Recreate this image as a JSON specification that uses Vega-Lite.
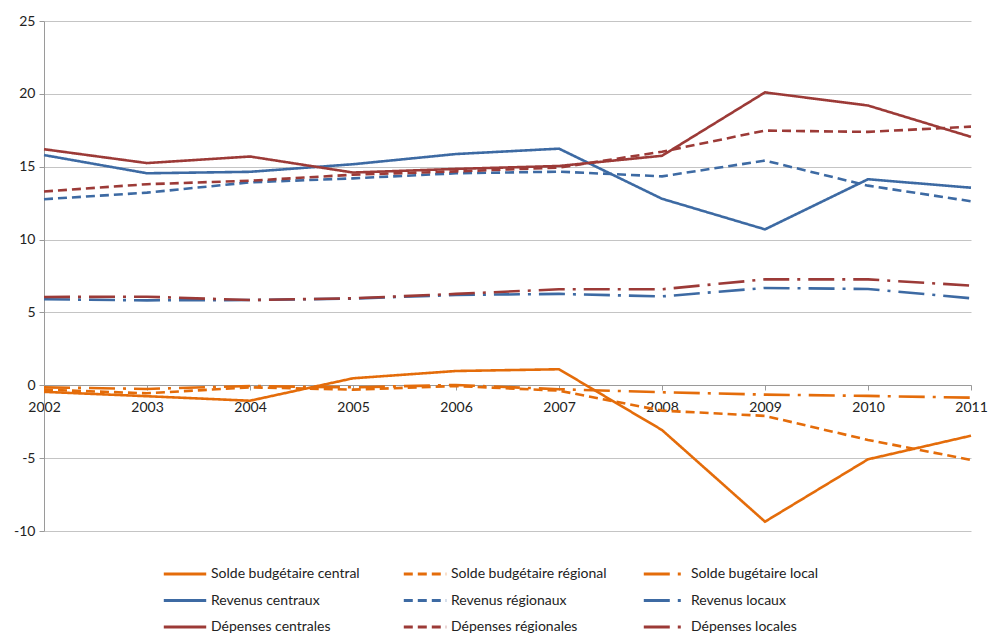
{
  "$schema": "https://vega.github.io/schema/vega-lite/v6.json",
  "width": 927,
  "height": 510,
  "autosize": {"type": "none"},
  "padding": {"left": 44, "top": 21, "right": 17, "bottom": 104},
  "background": "white",
  "config": {
    "font": "Lato",
    "view": {"stroke": null},
    "axis": {"labelFont": "Lato", "labelFontSize": 14, "labelColor": "#222222", "domainColor": "#9a9a9a", "tickColor": "#9a9a9a", "gridColor": "#c4c4c4"}
  },
  "data": {"values": [
    {"year":2002,"series":"Solde budgétaire central","value":-0.45},
    {"year":2003,"series":"Solde budgétaire central","value":-0.75},
    {"year":2004,"series":"Solde budgétaire central","value":-1.06},
    {"year":2005,"series":"Solde budgétaire central","value":0.48},
    {"year":2006,"series":"Solde budgétaire central","value":0.98},
    {"year":2007,"series":"Solde budgétaire central","value":1.1},
    {"year":2008,"series":"Solde budgétaire central","value":-3.07},
    {"year":2009,"series":"Solde budgétaire central","value":-9.36},
    {"year":2010,"series":"Solde budgétaire central","value":-5.08},
    {"year":2011,"series":"Solde budgétaire central","value":-3.46},
    {"year":2002,"series":"Solde budgétaire régional","value":-0.3},
    {"year":2003,"series":"Solde budgétaire régional","value":-0.55},
    {"year":2004,"series":"Solde budgétaire régional","value":-0.14},
    {"year":2005,"series":"Solde budgétaire régional","value":-0.3},
    {"year":2006,"series":"Solde budgétaire régional","value":-0.05},
    {"year":2007,"series":"Solde budgétaire régional","value":-0.37},
    {"year":2008,"series":"Solde budgétaire régional","value":-1.74},
    {"year":2009,"series":"Solde budgétaire régional","value":-2.1},
    {"year":2010,"series":"Solde budgétaire régional","value":-3.75},
    {"year":2011,"series":"Solde budgétaire régional","value":-5.12},
    {"year":2002,"series":"Solde bugétaire local","value":-0.14},
    {"year":2003,"series":"Solde bugétaire local","value":-0.25},
    {"year":2004,"series":"Solde bugétaire local","value":-0.05},
    {"year":2005,"series":"Solde bugétaire local","value":-0.14},
    {"year":2006,"series":"Solde bugétaire local","value":0.02},
    {"year":2007,"series":"Solde bugétaire local","value":-0.27},
    {"year":2008,"series":"Solde bugétaire local","value":-0.48},
    {"year":2009,"series":"Solde bugétaire local","value":-0.64},
    {"year":2010,"series":"Solde bugétaire local","value":-0.73},
    {"year":2011,"series":"Solde bugétaire local","value":-0.85},
    {"year":2002,"series":"Revenus centraux","value":15.8},
    {"year":2003,"series":"Revenus centraux","value":14.55},
    {"year":2004,"series":"Revenus centraux","value":14.65},
    {"year":2005,"series":"Revenus centraux","value":15.17},
    {"year":2006,"series":"Revenus centraux","value":15.87},
    {"year":2007,"series":"Revenus centraux","value":16.24},
    {"year":2008,"series":"Revenus centraux","value":12.8},
    {"year":2009,"series":"Revenus centraux","value":10.7},
    {"year":2010,"series":"Revenus centraux","value":14.14},
    {"year":2011,"series":"Revenus centraux","value":13.56},
    {"year":2002,"series":"Revenus régionaux","value":12.77},
    {"year":2003,"series":"Revenus régionaux","value":13.22},
    {"year":2004,"series":"Revenus régionaux","value":13.93},
    {"year":2005,"series":"Revenus régionaux","value":14.2},
    {"year":2006,"series":"Revenus régionaux","value":14.55},
    {"year":2007,"series":"Revenus régionaux","value":14.66},
    {"year":2008,"series":"Revenus régionaux","value":14.34},
    {"year":2009,"series":"Revenus régionaux","value":15.42},
    {"year":2010,"series":"Revenus régionaux","value":13.7},
    {"year":2011,"series":"Revenus régionaux","value":12.63},
    {"year":2002,"series":"Revenus locaux","value":5.9},
    {"year":2003,"series":"Revenus locaux","value":5.83},
    {"year":2004,"series":"Revenus locaux","value":5.85},
    {"year":2005,"series":"Revenus locaux","value":5.95},
    {"year":2006,"series":"Revenus locaux","value":6.2},
    {"year":2007,"series":"Revenus locaux","value":6.27},
    {"year":2008,"series":"Revenus locaux","value":6.1},
    {"year":2009,"series":"Revenus locaux","value":6.68},
    {"year":2010,"series":"Revenus locaux","value":6.61},
    {"year":2011,"series":"Revenus locaux","value":5.97},
    {"year":2002,"series":"Dépenses centrales","value":16.2},
    {"year":2003,"series":"Dépenses centrales","value":15.25},
    {"year":2004,"series":"Dépenses centrales","value":15.7},
    {"year":2005,"series":"Dépenses centrales","value":14.6},
    {"year":2006,"series":"Dépenses centrales","value":14.85},
    {"year":2007,"series":"Dépenses centrales","value":15.05},
    {"year":2008,"series":"Dépenses centrales","value":15.75},
    {"year":2009,"series":"Dépenses centrales","value":20.1},
    {"year":2010,"series":"Dépenses centrales","value":19.2},
    {"year":2011,"series":"Dépenses centrales","value":17.05},
    {"year":2002,"series":"Dépenses régionales","value":13.3},
    {"year":2003,"series":"Dépenses régionales","value":13.8},
    {"year":2004,"series":"Dépenses régionales","value":14.04},
    {"year":2005,"series":"Dépenses régionales","value":14.45},
    {"year":2006,"series":"Dépenses régionales","value":14.68},
    {"year":2007,"series":"Dépenses régionales","value":14.94},
    {"year":2008,"series":"Dépenses régionales","value":16.03},
    {"year":2009,"series":"Dépenses régionales","value":17.48},
    {"year":2010,"series":"Dépenses régionales","value":17.39},
    {"year":2011,"series":"Dépenses régionales","value":17.75},
    {"year":2002,"series":"Dépenses locales","value":6.06},
    {"year":2003,"series":"Dépenses locales","value":6.08},
    {"year":2004,"series":"Dépenses locales","value":5.85},
    {"year":2005,"series":"Dépenses locales","value":5.97},
    {"year":2006,"series":"Dépenses locales","value":6.27},
    {"year":2007,"series":"Dépenses locales","value":6.59},
    {"year":2008,"series":"Dépenses locales","value":6.59},
    {"year":2009,"series":"Dépenses locales","value":7.27},
    {"year":2010,"series":"Dépenses locales","value":7.27},
    {"year":2011,"series":"Dépenses locales","value":6.84}
  ]},
  "mark": {"type": "line", "strokeWidth": 2.6, "clip": false},
  "encoding": {
    "x": {
      "field": "year", "type": "quantitative",
      "scale": {"domain": [2002, 2011], "nice": false, "zero": false},
      "axis": {"title": null, "format": "d", "values": [2002,2003,2004,2005,2006,2007,2008,2009,2010,2011], "grid": false, "offset": -146, "tickSize": 5, "labelPadding": 10, "labelFlush": false}
    },
    "y": {
      "field": "value", "type": "quantitative",
      "scale": {"domain": [-10, 25], "nice": false},
      "axis": {"title": null, "values": [-10,-5,0,5,10,15,20,25], "labelExpr": "'' + datum.value", "tickSize": 5, "labelPadding": 4, "grid": true}
    },
    "color": {
      "field": "series", "type": "nominal",
      "sort": ["Solde budgétaire central","Solde budgétaire régional","Solde bugétaire local","Revenus centraux","Revenus régionaux","Revenus locaux","Dépenses centrales","Dépenses régionales","Dépenses locales"],
      "scale": {
        "domain": ["Solde budgétaire central","Solde budgétaire régional","Solde bugétaire local","Revenus centraux","Revenus régionaux","Revenus locaux","Dépenses centrales","Dépenses régionales","Dépenses locales"],
        "range": ["#E46C0A","#E46C0A","#E46C0A","#3D6AA3","#3D6AA3","#3D6AA3","#9C3A37","#9C3A37","#9C3A37"]
      },
      "legend": {
        "title": null, "orient": "none", "legendX": 132, "legendY": 544, "direction": "horizontal", "columns": 3,
        "symbolType": "M-3,0L3,0", "symbolSize": 200, "symbolStrokeWidth": 3, "symbolFillColor": "transparent", "labelFontSize": 14, "labelFont": "Lato", "labelColor": "#222222", "labelOffset": 17,
        "rowPadding": 10.5, "columnPadding": 30, "gridAlign": "all", "labelLimit": 300
      }
    },
    "strokeDash": {
      "field": "series", "type": "nominal",
      "sort": ["Solde budgétaire central","Solde budgétaire régional","Solde bugétaire local","Revenus centraux","Revenus régionaux","Revenus locaux","Dépenses centrales","Dépenses régionales","Dépenses locales"],
      "scale": {
        "domain": ["Solde budgétaire central","Solde budgétaire régional","Solde bugétaire local","Revenus centraux","Revenus régionaux","Revenus locaux","Dépenses centrales","Dépenses régionales","Dépenses locales"],
        "range": [[1,0],[9,5],[26,8,3,8],[1,0],[9,5],[26,8,3,8],[1,0],[9,5],[26,8,3,8]]
      },
      "legend": null
    }
  }
}
